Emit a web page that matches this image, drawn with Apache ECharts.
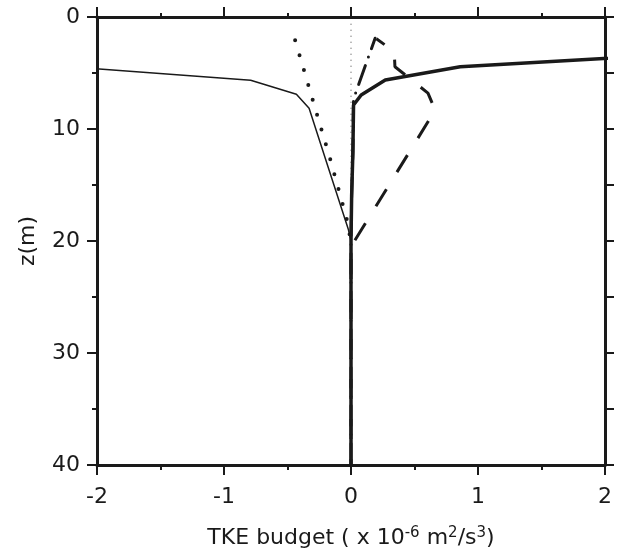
<!DOCTYPE html>
<html>
<head>
<meta charset="utf-8">
<script src="https://cdn.jsdelivr.net/npm/echarts@6.0.0/dist/echarts.min.js"></script>
<style>
html,body{margin:0;padding:0;background:#fff;}
#chart{width:622px;height:550px;}
</style>
</head>
<body>
<div id="chart"></div>
<script>
// ---- data (x = TKE budget term, z = depth in m) ----
const xTickLabels = ['-2', '-1', '0', '1', '2'];
const zTickLabels = ['0', '10', '20', '30', '40'];

const thinSolidX  = [-2.2, -0.79, -0.43, -0.33, -0.19, -0.02, 0, 0];
const thinSolidZ  = [4.45, 5.65, 6.9, 8.15, 13.05, 19.0, 20.0, 40];

const thickSolidX = [2.9, 0.86, 0.27, 0.08, 0.02, 0.015, 0.005, 0, 0];
const thickSolidZ = [3.1, 4.44, 5.63, 6.96, 7.86, 12.0, 16.0, 20.0, 40];

const dashedX     = [0.2, 0.34, 0.346, 0.606, 0.643, 0.654, 0, 0];
const dashedZ     = [1.95, 3.08, 4.44, 6.79, 7.79, 8.48, 20.5, 40];

const dashDotX    = [0.19, 0.02, 0.015, 0.005, 0, 0];
const dashDotZ    = [1.9, 7.3, 12.0, 16.0, 20.0, 40];

const dottedX     = [-0.44, -0.37, -0.30, -0.16, -0.03, -0.008, 0];
const dottedZ     = [2.08, 4.76, 7.46, 12.83, 18.2, 19.6, 20.3];

const zeroRefX    = [0, 0];
const zeroRefZ    = [0.6, 40];

function pairs(xs, zs) { return xs.map((x, i) => [x, zs[i]]); }

const FONT = "'DejaVu Sans', 'Liberation Sans', Arial, sans-serif";
const INK = '#1a1a1a';

const chart = echarts.init(document.getElementById('chart'), null, {renderer: 'canvas'});

const baseLine = {type: 'line', showSymbol: false, symbol: 'none', smooth: false, clip: true,
  silent: true, animation: false, xAxisIndex: 0, yAxisIndex: 0};

chart.setOption({
  animation: false,
  backgroundColor: '#ffffff',
  grid: {left: 97, right: 17, top: 17, bottom: 85, containLabel: false, outerBoundsMode: 'none'},
  xAxis: [
    {
      type: 'value', position: 'bottom', min: -2, max: 2, interval: 1,
      axisLine: {show: true, onZero: false, lineStyle: {color: INK, width: 3}},
      axisTick: {show: true, length: 10, lineStyle: {color: INK, width: 2}},
      minorTick: {show: true, splitNumber: 2, length: 5, lineStyle: {color: INK, width: 2}},
      splitLine: {show: false}, minorSplitLine: {show: false},
      axisLabel: {show: true, margin: 21, color: INK, fontSize: 22, fontFamily: FONT,
        formatter: (v) => xTickLabels[Math.round(v + 2)]},
      name: 'TKE budget ( x 10{sup|-6} m{sup|2}/s{sup|3})',
      nameLocation: 'middle', nameGap: 60,
      nameTextStyle: {color: INK, fontSize: 22, fontFamily: FONT, lineHeight: 26,
        rich: {sup: {fontSize: 15, fontFamily: FONT, color: INK, verticalAlign: 'top', lineHeight: 16, padding: [1, 0, 0, 0]}}}
    },
    {
      type: 'value', position: 'top', min: -2, max: 2, interval: 1,
      axisLine: {show: true, onZero: false, lineStyle: {color: INK, width: 3}},
      axisTick: {show: true, length: 10, lineStyle: {color: INK, width: 2}},
      minorTick: {show: true, splitNumber: 2, length: 4, lineStyle: {color: INK, width: 2}},
      splitLine: {show: false}, axisLabel: {show: false}
    }
  ],
  yAxis: [
    {
      type: 'value', position: 'left', inverse: true, min: 0, max: 40, interval: 10,
      axisLine: {show: true, onZero: false, lineStyle: {color: INK, width: 3}},
      axisTick: {show: true, length: 10, lineStyle: {color: INK, width: 2}},
      minorTick: {show: true, splitNumber: 2, length: 5, lineStyle: {color: INK, width: 2}},
      splitLine: {show: false}, minorSplitLine: {show: false},
      axisLabel: {show: true, margin: 17, color: INK, fontSize: 22, fontFamily: FONT,
        formatter: (v) => zTickLabels[Math.round(v / 10)]},
      name: 'z(m)', nameLocation: 'middle', nameGap: 58, nameRotate: 90,
      nameTextStyle: {color: INK, fontSize: 22, fontFamily: FONT}
    },
    {
      type: 'value', position: 'right', inverse: true, min: 0, max: 40, interval: 5,
      axisLine: {show: true, onZero: false, lineStyle: {color: INK, width: 3}},
      axisTick: {show: true, length: 9, lineStyle: {color: INK, width: 2}},
      splitLine: {show: false}, axisLabel: {show: false}
    }
  ],
  series: [
    Object.assign({}, baseLine, {name: 'zero', data: pairs(zeroRefX, zeroRefZ), z: 1,
      lineStyle: {color: '#444', width: 1, type: [1, 5]}}),
    Object.assign({}, baseLine, {name: 'dotted', data: pairs(dottedX, dottedZ), z: 2,
      lineStyle: {color: INK, width: 4, type: [0, 15.5], cap: 'round'}}),
    Object.assign({}, baseLine, {name: 'thin', data: pairs(thinSolidX, thinSolidZ), z: 3,
      lineStyle: {color: INK, width: 1.5, type: 'solid'}}),
    Object.assign({}, baseLine, {name: 'dashdot', data: pairs(dashDotX, dashDotZ), z: 3,
      lineStyle: {color: INK, width: 3, type: [20, 9, 0, 9], cap: 'round', dashOffset: 9}}),
    Object.assign({}, baseLine, {name: 'dashed', data: pairs(dashedX, dashedZ), z: 4,
      lineStyle: {color: INK, width: 3, type: [20, 20], dashOffset: 10}}),
    Object.assign({}, baseLine, {name: 'thick', data: pairs(thickSolidX, thickSolidZ), z: 5,
      lineStyle: {color: INK, width: 3.5, type: 'solid'}})
  ]
});
</script>
</body>
</html>
